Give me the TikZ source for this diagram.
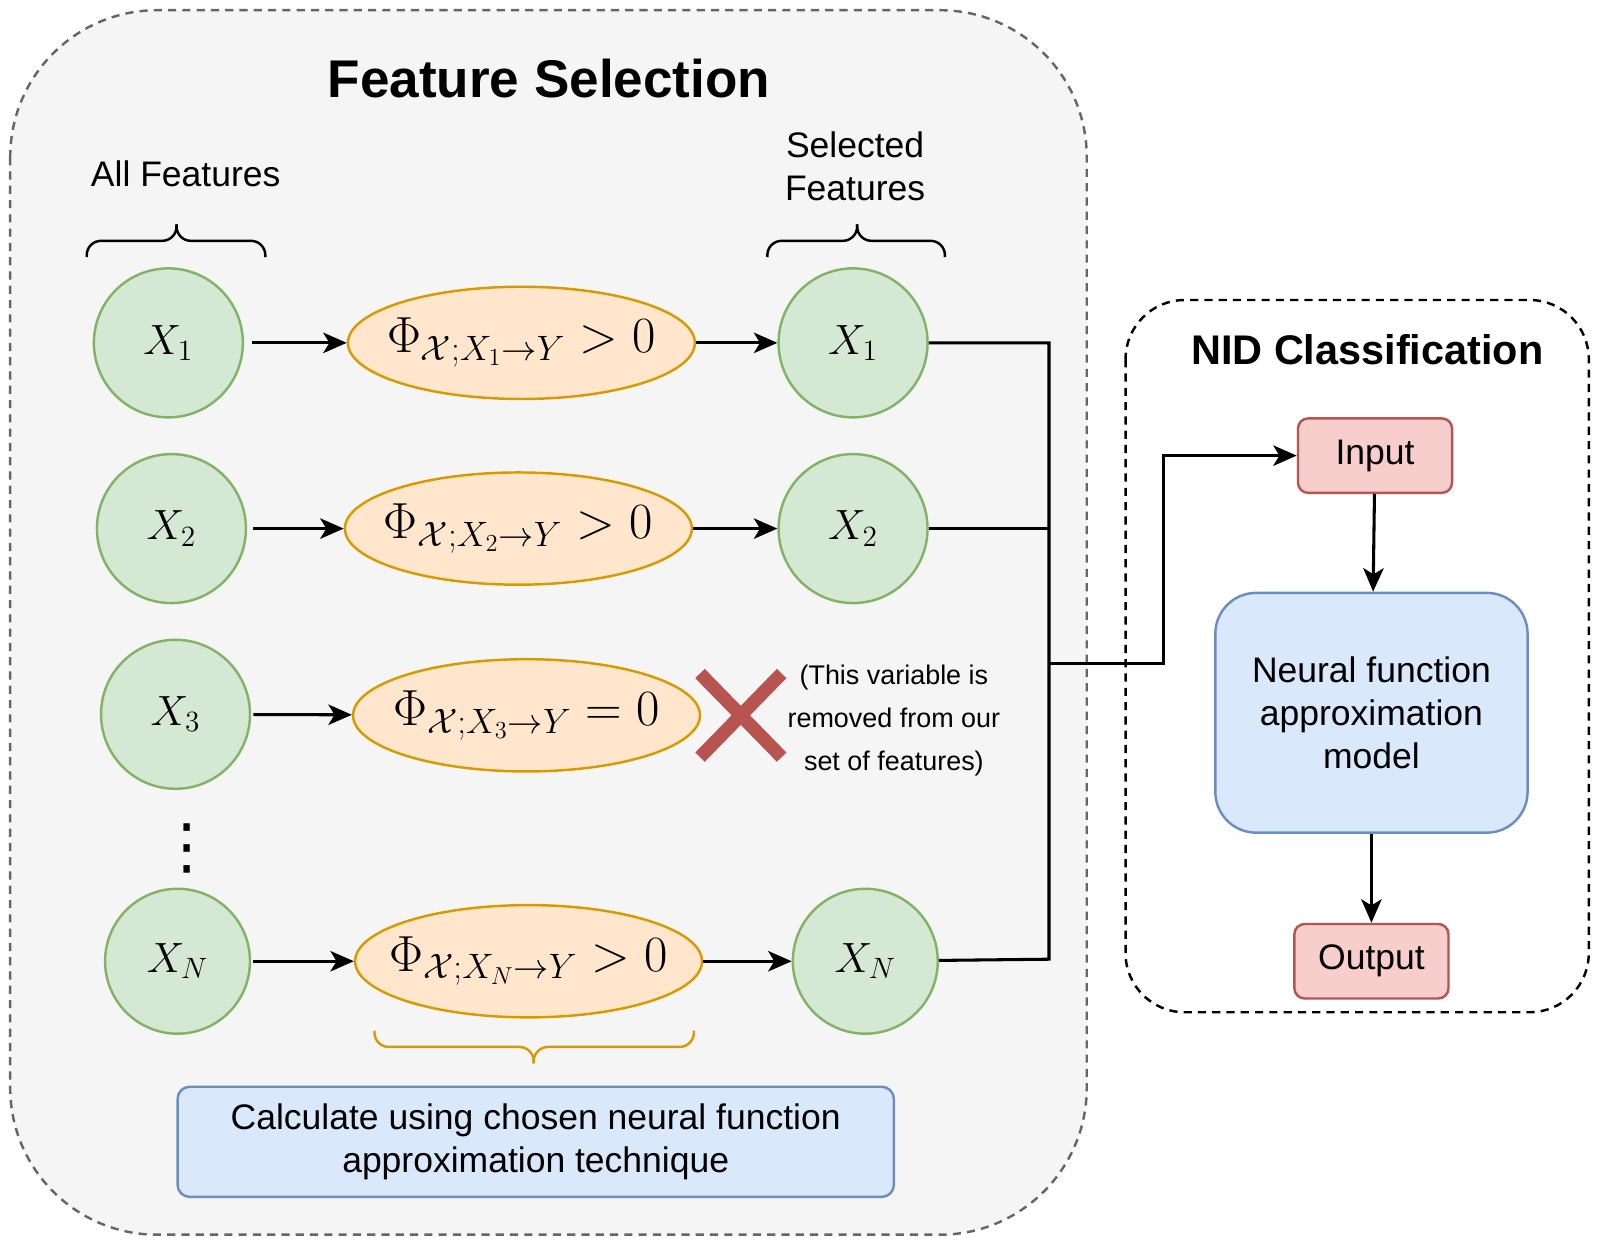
\documentclass[tikz,border=0pt]{standalone}
\usepackage{fontspec}
\setmainfont{Liberation Sans}
\newfontfamily\dotsfont{DejaVu Sans}
\usepackage{tikz}
\usetikzlibrary{arrows.meta,shapes.geometric}

\definecolor{grnfill}{HTML}{D5E8D4}
\definecolor{grnline}{HTML}{82B366}
\definecolor{orgfill}{HTML}{FFE6CC}
\definecolor{orgline}{HTML}{D79B00}
\definecolor{bluefill}{HTML}{DAE8FC}
\definecolor{blueline}{HTML}{6C8EBF}
\definecolor{redfill}{HTML}{F8CECC}
\definecolor{redline}{HTML}{B85450}
\definecolor{boxfill}{HTML}{F5F5F5}
\definecolor{boxline}{HTML}{666666}

\begin{document}
\begin{tikzpicture}[x=0.5pt,y=0.5pt,yscale=-1,
  feat/.style={circle,draw=grnline,fill=grnfill,line width=1.2pt,minimum size=73pt,inner sep=0pt,font=\fontsize{21}{25}\selectfont},
  phi/.style={ellipse,draw=orgline,fill=orgfill,line width=1.2pt,minimum width=170pt,minimum height=55pt,inner xsep=-25pt,inner ysep=0pt,font=\fontsize{26}{30}\selectfont},
  ioblock/.style={rectangle,rounded corners=5pt,draw=redline,fill=redfill,line width=1.2pt,minimum width=75.5pt,minimum height=36.5pt,font=\fontsize{17.4}{21}\selectfont},
  bluebox/.style={rectangle,draw=blueline,fill=bluefill,line width=1.2pt},
  lbl/.style={font=\fontsize{17.4}{21}\selectfont,align=center},
  link/.style={line width=1.5pt},
  arr/.style={link,-{Stealth[length=11.5pt,width=10pt,inset=3pt]}},
  curly/.style={line width=1.2pt,rounded corners=7pt},
  xmark/.style={draw=redline,line width=6.5pt}
]
\useasboundingbox (0,0) rectangle (1568,1217);

%Shape: Rounded Rectangle
\draw[draw=boxline,fill=boxfill,line width=1.2pt,dash pattern=on 4pt off 3pt,rounded corners=72pt] (10,10) rectangle (1065,1210);
%Shape: Rounded Rectangle
\draw[line width=1.2pt,dash pattern=on 4pt off 3pt,rounded corners=29pt] (1103,294) rectangle (1557,992);

% Text Node
\node[font=\bfseries\fontsize{26}{31}\selectfont] (fstitle) at (538,77) {Feature Selection};
% Text Node
\node[lbl] (allf) at (182,170) {All Features};
% Text Node
\node[lbl] (self) at (838,163) {Selected\\Features};

%Shape: Brace
\draw[curly] (85,252) -- (85,236) -- (173,236) -- (173,220);
\draw[curly] (173,220) -- (173,236) -- (260,236) -- (260,252);
%Shape: Brace
\draw[curly] (752,252) -- (752,236) -- (840,236) -- (840,220);
\draw[curly] (840,220) -- (840,236) -- (926,236) -- (926,252);

%Shape: Circle
\node[feat] (a1) at (165,336) {$X_1$};
\node[feat] (a2) at (168,518) {$X_2$};
\node[feat] (a3) at (172,700) {$X_3$};
\node[feat,minimum size=71pt] (aN) at (174,942) {$X_N$};
% Text Node
\node[font=\dotsfont\fontsize{30}{34}\selectfont] (dots) at (183,831) {⋮};

%Shape: Ellipse
\node[phi] (p1) at (511,336) {$\Phi_{\mathcal{X};X_1\to Y} > 0$};
\node[phi] (p2) at (508,518) {$\Phi_{\mathcal{X};X_2\to Y} > 0$};
\node[phi] (p3) at (516,701) {$\Phi_{\mathcal{X};X_3\to Y} = 0$};
\node[phi] (pN) at (518,942) {$\Phi_{\mathcal{X};X_N\to Y} > 0$};

%Shape: Circle
\node[feat] (s1) at (836,336) {$X_1$};
\node[feat] (s2) at (836,518) {$X_2$};
\node[feat,minimum size=71pt] (sN) at (848,942) {$X_N$};

%Straight Lines
\draw[arr,shorten <=4pt] (a1) -- (p1);
\draw[arr,shorten <=3pt] (a2) -- (p2);
\draw[arr,shorten <=1pt] (a3) -- (p3);
\draw[arr,shorten <=1pt] (aN) -- (pN);
\draw[arr] (p1) -- (s1);
\draw[arr] (p2) -- (s2);
\draw[arr] (pN) -- (sN);

%Shape: Cross
\draw[xmark] (686,660) -- (766,742);
\draw[xmark] (686,742) -- (766,660);
% Text Node
\node[font=\fontsize{13.2}{21}\selectfont,align=center] (rmtxt) at (876,706) {(This variable is\\removed from our\\set of features)};

%Shape: Brace
\draw[curly,draw=orgline] (367,1010) -- (367,1026) -- (523,1026) -- (523,1042);
\draw[curly,draw=orgline] (523,1042) -- (523,1026) -- (680,1026) -- (680,1010);
%Shape: Rectangle
\node[bluebox,rounded corners=6pt,minimum width=351pt,minimum height=54pt,lbl] (calc) at (525,1119) {Calculate using chosen neural function\\approximation technique};

% Text Node
\node[font=\bfseries\fontsize{20.3}{24}\selectfont] (nidtitle) at (1340,343) {NID Classification};
%Shape: Rectangle
\node[ioblock] (in) at (1347.5,446.5) {Input};
\node[bluebox,rounded corners=20pt,minimum width=153pt,minimum height=117.5pt,lbl] (nf) at (1344,698.5) {Neural function\\approximation\\model};
\node[ioblock] (out) at (1344,942) {Output};

%Connectors
\coordinate (bus) at (1028,650);
\coordinate (busN) at (1028,940);
\coordinate (jog) at (1140,650);
\draw[link] (s1) -| (busN) -- (sN);
\draw[link] (s2) -- (s2 -| bus);
\draw[arr] (bus) -- (jog) |- (in);
\draw[arr] (in) -- (nf);
\draw[arr] (nf) -- (out);

\end{tikzpicture}
\end{document}
